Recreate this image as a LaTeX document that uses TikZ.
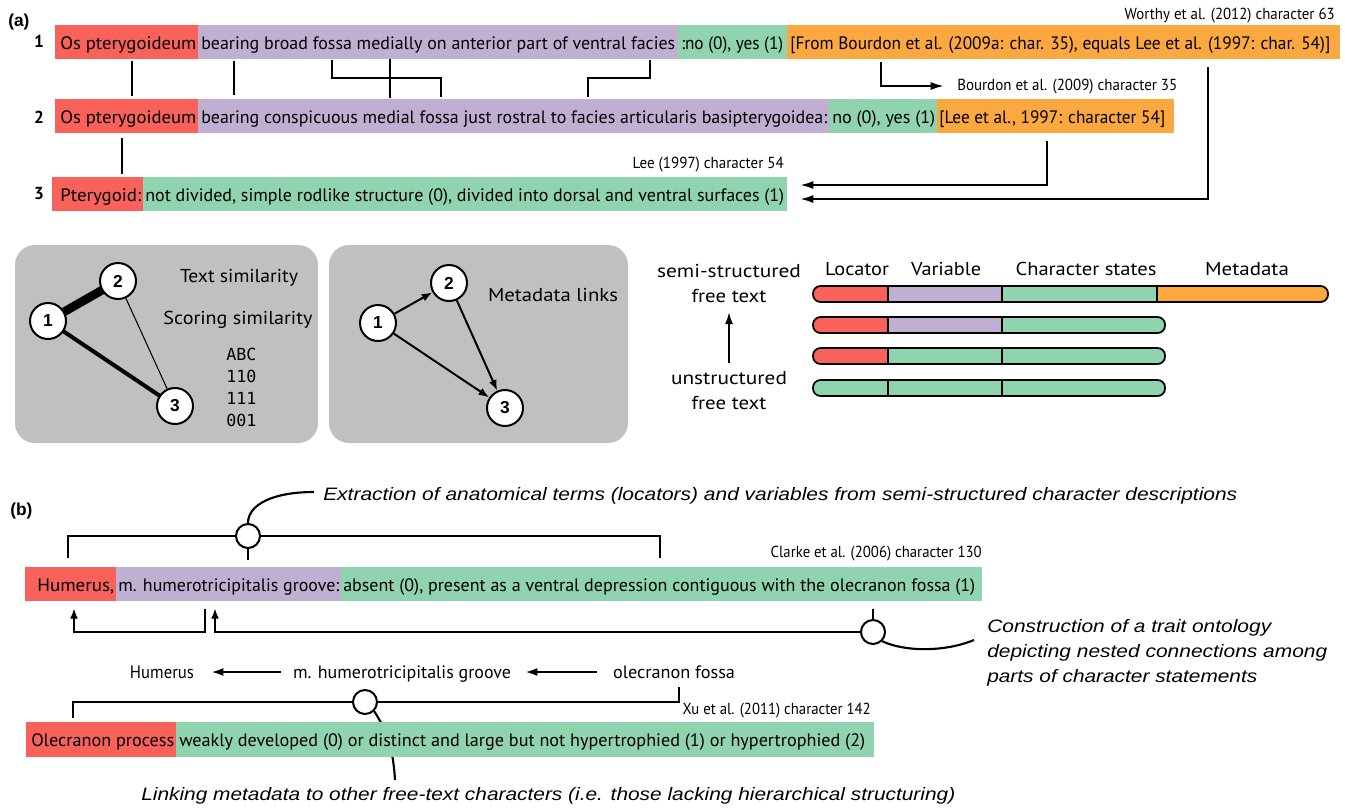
\documentclass[tikz,border=0pt]{standalone}
\usepackage{fontspec}
\usepackage{graphicx}
\setmainfont{PT Sans}
\newfontfamily\helv{Liberation Sans}
\newfontfamily\monof{DejaVu Sans Mono}
\usetikzlibrary{arrows.meta,fit,calc}
\newdimen\pxu \pxu=0.75pt
\newcommand\fitw[2]{\resizebox{#1\pxu}{\height}{#2}}
\definecolor{cred}{HTML}{F9625B}
\definecolor{cpur}{HTML}{BFB0D2}
\definecolor{cgrn}{HTML}{90D3AF}
\definecolor{corg}{HTML}{FBA841}
\definecolor{cgray}{HTML}{C0C0C0}
\tikzset{
  seg/.style={inner sep=0pt, outer sep=0pt, draw=none},
  rtxt/.style={inner sep=0pt, anchor=base west, font=\fontsize{13.5}{15}\selectfont},
  note/.style={inner sep=0pt, anchor=base east, font=\fontsize{12}{14}\selectfont},
  rowno/.style={inner sep=0pt, anchor=base, font=\fontsize{13}{15}\selectfont\bfseries},
  plabel/.style={inner sep=0pt, anchor=base west, font=\helv\fontsize{13}{15}\selectfont\bfseries},
  conn/.style={line width=1.6pt},
  arra/.style={line width=1.6pt, -{Latex[length=10pt,width=6pt]}},
  arrb/.style={line width=1.6pt, -{Latex[length=8pt,width=6pt]}},
  gnode/.style={circle, draw, line width=1.5pt, fill=white, minimum size=27pt, inner sep=0pt, font=\helv\fontsize{13}{15}\selectfont\bfseries},
  panel/.style={fill=cgray, rounded corners=15pt},
  ptxt/.style={inner sep=0pt, anchor=base, font=\fontsize{14}{16}\selectfont},
  mono/.style={inner sep=0pt, anchor=base west, font=\monof\fontsize{12.5}{15}\selectfont},
  garr/.style={line width=1.5pt, -{Latex[length=8pt,width=6pt]}},
  ltxt/.style={inner sep=0pt, anchor=base, font=\fontsize{14}{16}\selectfont},
  bar/.style={line width=1.3pt, rounded corners=5.6pt},
  ring/.style={circle, draw, line width=1.5pt, fill=white, minimum size=18pt, inner sep=0pt},
  captxt/.style={inner sep=0pt, anchor=base west, font=\helv\itshape\fontsize{13.5}{16}\selectfont},
  ctxt/.style={inner sep=0pt, anchor=base, font=\fontsize{13.5}{15}\selectfont},
  arrc/.style={line width=1.6pt, -{Latex[length=9pt,width=6pt]}},
}
\newcommand\seg[6]{\node[seg, fill=#2, fit={(#3,#4)(#5,#6)}] (#1) {};}
\newcommand\rt[5]{\node[rtxt] (#1) at (#2,#3) {\fitw{#4}{#5}};}
\begin{document}
\begin{tikzpicture}[x=0.75pt,y=-0.75pt]
\useasboundingbox (0,0) rectangle (1345,808);
% ---------------- (a) ----------------
\node[plabel] (la) at (8,26) {(a)};
\node[note] (n63) at (1335,19) {\fitw{210}{Worthy et al. (2012) character 63}};
% row 1
\seg{r1a}{cred}{55}{25}{198}{59}
\seg{r1b}{cpur}{198}{25}{678}{59}
\seg{r1c}{cgrn}{678}{25}{787}{59}
\seg{r1d}{corg}{787}{25}{1340}{59}
\node[rowno] (no1) at (39,47) {1};
\rt{t1a}{60}{49}{136}{Os pterygoideum}
\rt{t1b}{201}{49}{474}{bearing broad fossa medially on anterior part of ventral facies}
\rt{t1c}{681}{49}{102}{:no (0), yes (1)}
\rt{t1d}{790}{49}{540}{[From Bourdon et al. (2009a: char. 35), equals Lee et al. (1997: char. 54)]}
% row 2
\seg{r2a}{cred}{55}{99}{198}{133}
\seg{r2b}{cpur}{198}{99}{829}{133}
\seg{r2c}{cgrn}{829}{99}{937}{133}
\seg{r2d}{corg}{937}{99}{1174}{133}
\node[rowno] (no2) at (39,123) {2};
\rt{t2a}{60}{123}{136}{Os pterygoideum}
\rt{t2b}{201}{123}{626}{bearing conspicuous medial fossa just rostral to facies articularis basipterygoidea:}
\rt{t2c}{832}{123}{103}{no (0), yes (1)}
\rt{t2d}{939}{123}{226}{[Lee et al., 1997: character 54]}
\node[note, anchor=base west] (n35) at (957,90) {\fitw{220}{Bourdon et al. (2009) character 35}};
% row 3
\seg{r3a}{cred}{52}{177}{143}{211}
\seg{r3b}{cgrn}{143}{177}{787}{211}
\node[rowno] (no3) at (39,199) {3};
\rt{t3a}{60}{201}{81}{Pterygoid:}
\rt{t3b}{145}{201}{639}{not divided, simple rodlike structure (0), divided into dorsal and ventral surfaces (1)}
\node[note] (n54) at (784,168) {\fitw{151}{Lee (1997) character 54}};
% connectors rows 1-2-3
\draw[conn] (132,61) -- (132,96);
\draw[conn] (234,61) -- (234,95);
\draw[conn] (332,60) -- (332,78) -- (441,78) -- (441,97);
\draw[conn] (390,59) -- (390,98);
\draw[conn] (650,60) -- (650,78) -- (588,78) -- (588,97);
\draw[conn] (122,138) -- (122,174);
\coordinate (a1e) at (944,86);
\coordinate (a2e) at (800,185);
\coordinate (a3e) at (800,199);
\draw[arra] (881,62) -- (881,86) -- (a1e);
\draw[arra] (1047,141) -- (1047,185) -- (a2e);
\draw[arra] (1208,67) -- (1208,199) -- (a3e);
% ---------------- panels ----------------
\path[panel] (15,245) rectangle (318,443);
\path[panel] (329,245) rectangle (628,443);
\coordinate (g11p) at (48,321);
\coordinate (g12p) at (118,281);
\coordinate (g13p) at (175,406);
\draw[line width=6.5pt] (g11p) -- (g12p);
\draw[line width=3pt] (g11p) -- (g13p);
\draw[line width=0.8pt] (g12p) -- (g13p);
\node[gnode] (g11) at (g11p) {1};
\node[gnode] (g12) at (g12p) {2};
\node[gnode] (g13) at (g13p) {3};
\node[ptxt] (ts) at (239,282) {\fitw{118}{Text similarity}};
\node[ptxt] (ss) at (238,324) {\fitw{149}{Scoring similarity}};
\node[mono] (m1) at (226,360) {ABC};
\node[mono] (m2) at (226,382) {110};
\node[mono] (m3) at (226,404) {111};
\node[mono] (m4) at (226,426) {001};
\node[gnode] (g21) at (378,323) {1};
\node[gnode] (g22) at (449,283) {2};
\node[gnode] (g23) at (505,408) {3};
\draw[garr] (g21) -- (g22);
\draw[garr] (g22) -- (g23);
\draw[garr] (g21) -- (g23);
\node[ptxt] (ml) at (553,301) {\fitw{130}{Metadata links}};
% ---------------- legend ----------------
\node[ltxt] (ls1) at (729,277) {\fitw{144}{semi-structured}};
\node[ltxt] (ls2) at (729,302) {\fitw{75}{free text}};
\node[ltxt] (lu1) at (729,384) {\fitw{116}{unstructured}};
\node[ltxt] (lu2) at (729,409) {\fitw{75}{free text}};
\coordinate (lgs) at (729,363);
\coordinate (lge) at (729,312);
\draw[line width=1.5pt, -{Latex[length=9pt,width=6pt]}] (lgs) -- (lge);
\node[ltxt] (hl) at (857,275) {\fitw{64}{Locator}};
\node[ltxt] (hv) at (946,275) {\fitw{70}{Variable}};
\node[ltxt] (hc) at (1086,275) {\fitw{141}{Character states}};
\node[ltxt] (hm) at (1247,275) {\fitw{84}{Metadata}};
% bar 1
\begin{scope}
\clip[rounded corners=5.6pt] (813,286) rectangle (1328,302);
\fill[cred] (813,286) rectangle (888,302);
\fill[cpur] (888,286) rectangle (1002,302);
\fill[cgrn] (1002,286) rectangle (1157,302);
\fill[corg] (1157,286) rectangle (1328,302);
\end{scope}
\draw[line width=1.3pt] (888,286) -- (888,302) (1002,286) -- (1002,302) (1157,286) -- (1157,302);
\draw[bar] (813,286) rectangle (1328,302);
% bar 2
\begin{scope}
\clip[rounded corners=5.6pt] (813,317) rectangle (1165,333);
\fill[cred] (813,317) rectangle (888,333);
\fill[cpur] (888,317) rectangle (1002,333);
\fill[cgrn] (1002,317) rectangle (1165,333);
\end{scope}
\draw[line width=1.3pt] (888,317) -- (888,333) (1002,317) -- (1002,333);
\draw[bar] (813,317) rectangle (1165,333);
% bar 3
\begin{scope}
\clip[rounded corners=5.6pt] (813,348) rectangle (1165,364);
\fill[cred] (813,348) rectangle (888,364);
\fill[cgrn] (888,348) rectangle (1165,364);
\end{scope}
\draw[line width=1.3pt] (888,348) -- (888,364) (1002,348) -- (1002,364);
\draw[bar] (813,348) rectangle (1165,364);
% bar 4
\fill[cgrn, rounded corners=5.6pt] (813,380) rectangle (1165,396);
\draw[line width=1.3pt] (888,380) -- (888,396) (1002,380) -- (1002,396);
\draw[bar] (813,380) rectangle (1165,396);
% ---------------- (b) ----------------
\node[plabel] (lb) at (10,515) {(b)};
\node[captxt] (cap1) at (323,500) {\fitw{914}{Extraction of anatomical terms (locators) and variables from semi-structured character descriptions}};
\draw[conn] (68,558) -- (68,536) -- (660,536) -- (660,558);
\node[ring] (o1) at (248,536) {};
\draw[conn] (o1.south) -- (248,560);
\coordinate (c1e) at (314,492);
\draw[conn] (o1.north) .. controls (248,505) and (272,492) .. (c1e);
\node[note] (n130) at (982,557) {\fitw{211}{Clarke et al. (2006) character 130}};
% row b1
\seg{b1a}{cred}{25}{567}{116}{601}
\seg{b1b}{cpur}{116}{567}{341}{601}
\seg{b1c}{cgrn}{341}{567}{982}{601}
\rt{tb1a}{37}{591}{77}{Humerus,}
\rt{tb1b}{118}{591}{221}{m. humerotricipitalis groove:}
\rt{tb1c}{343}{591}{632}{absent (0), present as a ventral depression contiguous with the olecranon fossa (1)}
% arrows under row b1
\draw[arrb] (205,609) -- (205,632) -- (74,632) -- (74,608);
\node[ring] (o2) at (873,632) {};
\draw[arrb] (o2.west) -- (215,632) -- (215,608);
\draw[conn] (873,609) -- (o2.north);
\coordinate (c2e) at (974,640);
\draw[conn] (o2.south east) .. controls (905,652) and (945,652) .. (c2e);
\node[captxt] (cap2a) at (987,632) {\fitw{284}{Construction of a trait ontology}};
\node[captxt] (cap2b) at (987,657) {\fitw{340}{depicting nested connections among}};
\node[captxt] (cap2c) at (987,682) {\fitw{270}{parts of character statements}};
% chain
\node[ctxt] (hum) at (162,678) {\fitw{64}{Humerus}};
\node[ctxt] (grv) at (402,678) {\fitw{218}{m. humerotricipitalis groove}};
\node[ctxt] (olf) at (674,678) {\fitw{122}{olecranon fossa}};
\draw[arrc] ($(grv.base west)+(-12,-6)$) -- ($(hum.base east)+(17,-6)$);
\draw[arrc] ($(olf.base west)+(-16,-6)$) -- ($(grv.base east)+(14,-6)$);
% bracket b2
\draw[conn] (679,687) -- (679,702) -- (73,702) -- (73,718);
\coordinate (c3e) at (395,780);
\node[ring] (o3) at (365,702) {};
\draw[conn] (o3.south east) .. controls (385,728) and (393,745) .. (c3e);
\node[note] (n142) at (871,714) {\fitw{188}{Xu et al. (2011) character 142}};
% row b2
\seg{b2a}{cred}{26}{722}{176}{757}
\seg{b2b}{cgrn}{176}{722}{874}{757}
\rt{tb2a}{31}{746}{143}{Olecranon process}
\rt{tb2b}{179}{746}{686}{weakly developed (0) or distinct and large but not hypertrophied (1) or hypertrophied (2)}
\node[captxt] (cap3) at (141,800) {\fitw{814}{Linking metadata to other free-text characters (i.e. those lacking hierarchical structuring)}};
\end{tikzpicture}
\end{document}
